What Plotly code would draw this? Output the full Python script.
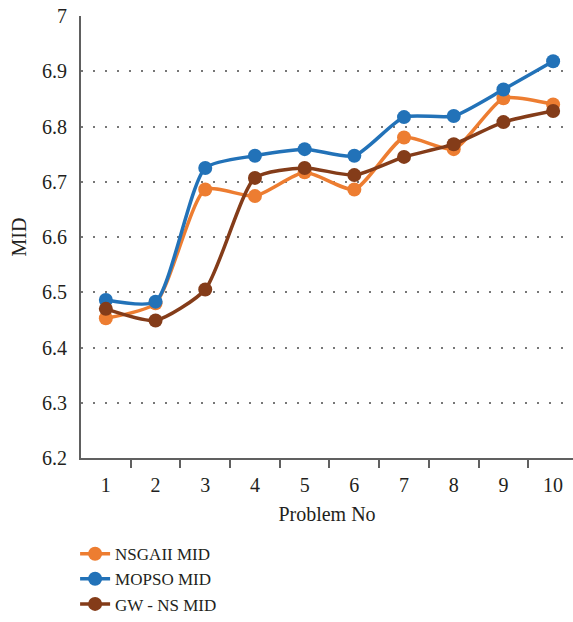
import plotly.graph_objects as go

problems = [1, 2, 3, 4, 5, 6, 7, 8, 9, 10]
nsgaii_mid = [6.453, 6.480, 6.686, 6.674, 6.717, 6.686, 6.780, 6.759, 6.851, 6.840]
mopso_mid = [6.486, 6.483, 6.725, 6.747, 6.759, 6.747, 6.817, 6.819, 6.867, 6.918]
gwns_mid = [6.470, 6.449, 6.505, 6.707, 6.725, 6.712, 6.745, 6.768, 6.808, 6.828]
y_ticks = [6.2, 6.3, 6.4, 6.5, 6.6, 6.7, 6.8, 6.9, 7.0]
y_tick_text = ["6.2", "6.3", "6.4", "6.5", "6.6", "6.7", "6.8", "6.9", "7"]

series = [
    ("NSGAII MID", nsgaii_mid, "#ED7D31"),
    ("MOPSO MID", mopso_mid, "#2272B8"),
    ("GW - NS MID", gwns_mid, "#843C19"),
]

fig = go.Figure()
for name, vals, color in series:
    fig.add_trace(go.Scatter(
        x=problems, y=vals, name=name, mode="lines+markers",
        line=dict(color=color, width=3.5, shape="spline", smoothing=0.6),
        marker=dict(color=color, size=14),
    ))

font_family = "Liberation Serif, Times New Roman, serif"
fig.update_layout(
    width=573, height=622,
    margin=dict(l=81, r=0, t=16, b=164, autoexpand=False),
    paper_bgcolor="white", plot_bgcolor="white",
    font=dict(family=font_family, size=20, color="#231F20"),
    showlegend=True,
    legend=dict(x=-0.012, y=0.138, xanchor="left", yanchor="top",
                yref="container",
                font=dict(size=17, family=font_family, color="#231F20"),
                tracegroupgap=0, itemwidth=30, bgcolor="rgba(0,0,0,0)"),
    xaxis=dict(
        range=[0.5, 10.4], tickvals=problems, ticktext=[str(p) for p in problems],
        ticks="", showgrid=False, zeroline=False, automargin=False,
        showline=True, linecolor="#606060", linewidth=2,
        ticklabelstandoff=8,
        minor=dict(tickvals=[1.5, 2.5, 3.5, 4.5, 5.5, 6.5, 7.5, 8.5, 9.5],
                   ticks="outside", ticklen=8, tickcolor="#606060", tickwidth=2,
                   showgrid=False),
        title=dict(text="Problem No", font=dict(size=20), standoff=12),
        tickfont=dict(size=20),
    ),
    yaxis=dict(
        range=[6.2, 7.0], tickvals=y_ticks, ticktext=y_tick_text,
        ticks="", showgrid=True, gridcolor="#777777", gridwidth=1.5,
        griddash="1.5px,10.5px", zeroline=False, automargin=False,
        showline=True, linecolor="#606060", linewidth=2,
        ticklabelstandoff=8,
        title=dict(text="MID", font=dict(size=20), standoff=10),
        tickfont=dict(size=20),
    ),
)

fig.write_html("out.html")
